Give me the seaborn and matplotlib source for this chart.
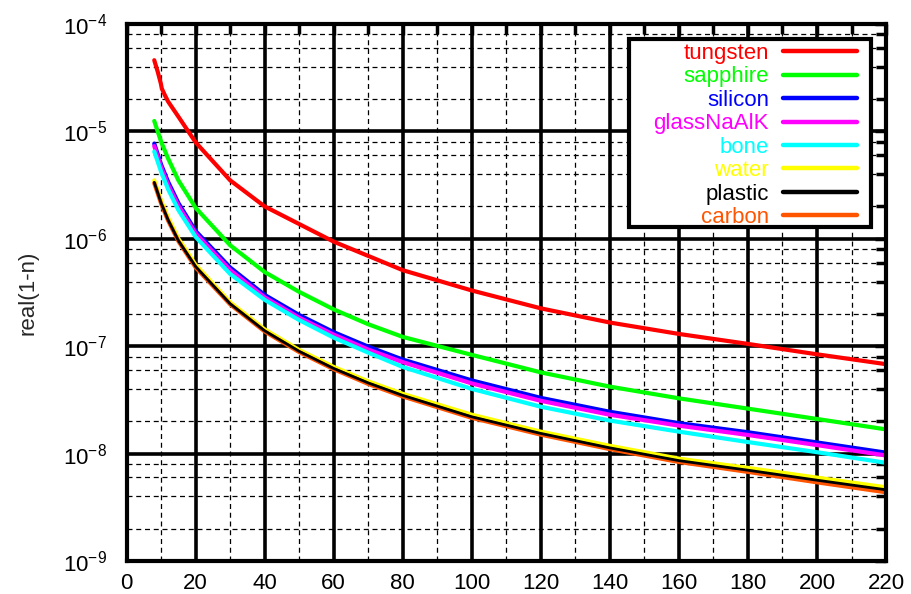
import numpy as np
import pandas as pd
import seaborn as sns
import matplotlib
matplotlib.use("Agg")
import matplotlib.pyplot as plt
from matplotlib.patches import Rectangle
from matplotlib.ticker import LogLocator, MultipleLocator, NullFormatter

# ---------------- data ----------------
energy_w = [8, 9, 9.9, 10.2, 11, 12, 15, 20, 30, 40, 60, 80, 100, 120, 140, 160, 180, 200, 220]
tungsten = [4.6e-5, 3.6e-5, 2.8e-5, 2.5e-5, 2.2e-5, 1.9e-5, 1.37e-5, 7.9e-6, 3.5e-6, 2.0e-6,
            9.4e-7, 5.1e-7, 3.3e-7, 2.25e-7, 1.66e-7, 1.3e-7, 1.05e-7, 8.4e-8, 6.8e-8]

energy = [8, 10, 12, 15, 20, 30, 40, 50, 60, 70, 80, 100, 120, 140, 160, 180, 200, 220]
sapphire = [1.25e-5, 8.0e-6, 5.6e-6, 3.5e-6, 1.94e-6, 8.7e-7, 4.9e-7, 3.2e-7, 2.2e-7, 1.6e-7,
            1.22e-7, 8.3e-8, 5.7e-8, 4.2e-8, 3.27e-8, 2.62e-8, 2.1e-8, 1.68e-8]
silicon = [7.7e-6, 4.9e-6, 3.4e-6, 2.15e-6, 1.18e-6, 5.4e-7, 3.0e-7, 1.95e-7, 1.35e-7, 9.9e-8,
           7.5e-8, 4.8e-8, 3.3e-8, 2.45e-8, 1.92e-8, 1.58e-8, 1.27e-8, 1.02e-8]
glass = [7.3e-6, 4.65e-6, 3.2e-6, 2.03e-6, 1.12e-6, 5.1e-7, 2.85e-7, 1.84e-7, 1.28e-7, 9.3e-8,
         7.1e-8, 4.5e-8, 3.1e-8, 2.3e-8, 1.82e-8, 1.49e-8, 1.2e-8, 9.6e-9]
bone = [6.5e-6, 4.2e-6, 2.9e-6, 1.85e-6, 1.04e-6, 4.7e-7, 2.7e-7, 1.75e-7, 1.2e-7, 8.7e-8,
        6.4e-8, 4.0e-8, 2.73e-8, 2.03e-8, 1.6e-8, 1.28e-8, 1.03e-8, 8.2e-9]
water = [3.5e-6, 2.25e-6, 1.57e-6, 1.0e-6, 5.7e-7, 2.55e-7, 1.43e-7, 9.2e-8, 6.4e-8, 4.7e-8,
         3.6e-8, 2.3e-8, 1.6e-8, 1.18e-8, 8.97e-9, 7.35e-9, 5.97e-9, 4.85e-9]
plastic = [3.35e-6, 2.15e-6, 1.5e-6, 9.6e-7, 5.5e-7, 2.48e-7, 1.39e-7, 8.95e-8, 6.2e-8, 4.55e-8,
           3.48e-8, 2.2e-8, 1.54e-8, 1.13e-8, 8.6e-9, 7.0e-9, 5.65e-9, 4.6e-9]
carbon = [3.3e-6, 2.12e-6, 1.48e-6, 9.5e-7, 5.4e-7, 2.45e-7, 1.37e-7, 8.8e-8, 6.1e-8, 4.45e-8,
          3.4e-8, 2.15e-8, 1.5e-8, 1.1e-8, 8.35e-9, 6.75e-9, 5.4e-9, 4.36e-9]

materials = ["tungsten", "sapphire", "silicon", "glassNaAlK", "bone", "water", "plastic", "carbon"]
colors = ["#ff0000", "#00ff00", "#0000ff", "#ff00ff", "#00ffff", "#ffff00", "#000000", "#ff5500"]

x_ticks = [0, 20, 40, 60, 80, 100, 120, 140, 160, 180, 200, 220]

# ---------------- build table ----------------
frames = [pd.DataFrame({"E": energy_w, "v": tungsten, "material": "tungsten"})]
for name, vals in zip(materials[1:], [sapphire, silicon, glass, bone, water, plastic, carbon]):
    frames.append(pd.DataFrame({"E": energy, "v": vals, "material": name}))
df = pd.concat(frames, ignore_index=True)

sns.set_style("white")
plt.rcParams["font.family"] = ["Liberation Sans", "DejaVu Sans"]
plt.rcParams["mathtext.fontset"] = "custom"
plt.rcParams["mathtext.rm"] = "Liberation Sans"
plt.rcParams["mathtext.it"] = "Liberation Sans"

W, H = 911, 594
fig, ax = plt.subplots(figsize=(W / 100, H / 100), dpi=100)
fig.subplots_adjust(left=0.139, right=0.9726, top=0.9596, bottom=0.0556)

palette = dict(zip(materials, colors))
sns.lineplot(data=df, x="E", y="v", hue="material", hue_order=materials,
             palette=palette, sort=False, estimator=None, linewidth=3.0, ax=ax)

for line, name in zip(ax.get_lines(), materials):
    if name == "plastic":
        line.set_linewidth(2.0)
        line.set_zorder(5)

ax.set_yscale("log")
ax.set_xlim(0, 220)
ax.set_ylim(1e-9, 1e-4)
ax.set_xticks(x_ticks)
ax.xaxis.set_minor_locator(MultipleLocator(10))
ax.yaxis.set_major_locator(LogLocator(base=10, numticks=10))
ax.yaxis.set_minor_locator(LogLocator(base=10, subs=[2, 4, 6, 8], numticks=20))
ax.yaxis.set_minor_formatter(NullFormatter())

ax.grid(which="major", color="black", linewidth=2.6, linestyle="-")
ax.grid(which="minor", color="black", linewidth=0.9, linestyle=(0, (4, 3)))
ax.set_axisbelow(True)

for s in ax.spines.values():
    s.set_linewidth(3)
    s.set_color("black")
    s.set_zorder(6)

ax.tick_params(which="both", direction="in", top=True, right=True, colors="black",
               labelsize=16)
ax.tick_params(which="major", length=8, width=2.5)
ax.tick_params(which="minor", length=7, width=2.5)
ax.tick_params(axis="x", which="major", pad=9)
ax.tick_params(axis="y", which="major", pad=14)

ax.set_xlabel("")
ax.xaxis.label.set_visible(False)
ax.set_ylabel("real(1-n)", fontsize=16, labelpad=18)

# legend box (drawn as a white framed rectangle)
box = Rectangle((629 / W, 1 - 227 / H), 242 / W, 188 / H, transform=fig.transFigure,
                facecolor="white", edgecolor="black", linewidth=3, zorder=8, clip_on=False)
ax.add_patch(box)

handles, labels = ax.get_legend_handles_labels()
if ax.legend_:
    ax.legend_.remove()
leg = ax.legend(handles, labels, loc="upper right", markerfirst=False,
                bbox_to_anchor=(857 / W, 1 - 43 / H), bbox_transform=fig.transFigure,
                fontsize=16, labelcolor="linecolor", frameon=False,
                handlelength=3.33, handletextpad=0.63,
                labelspacing=0.11, borderpad=0.0, borderaxespad=0.0)
leg.set_zorder(10)
for h in leg.get_lines():
    h.set_linewidth(3.2)

fig.savefig("out.png", dpi=100)
